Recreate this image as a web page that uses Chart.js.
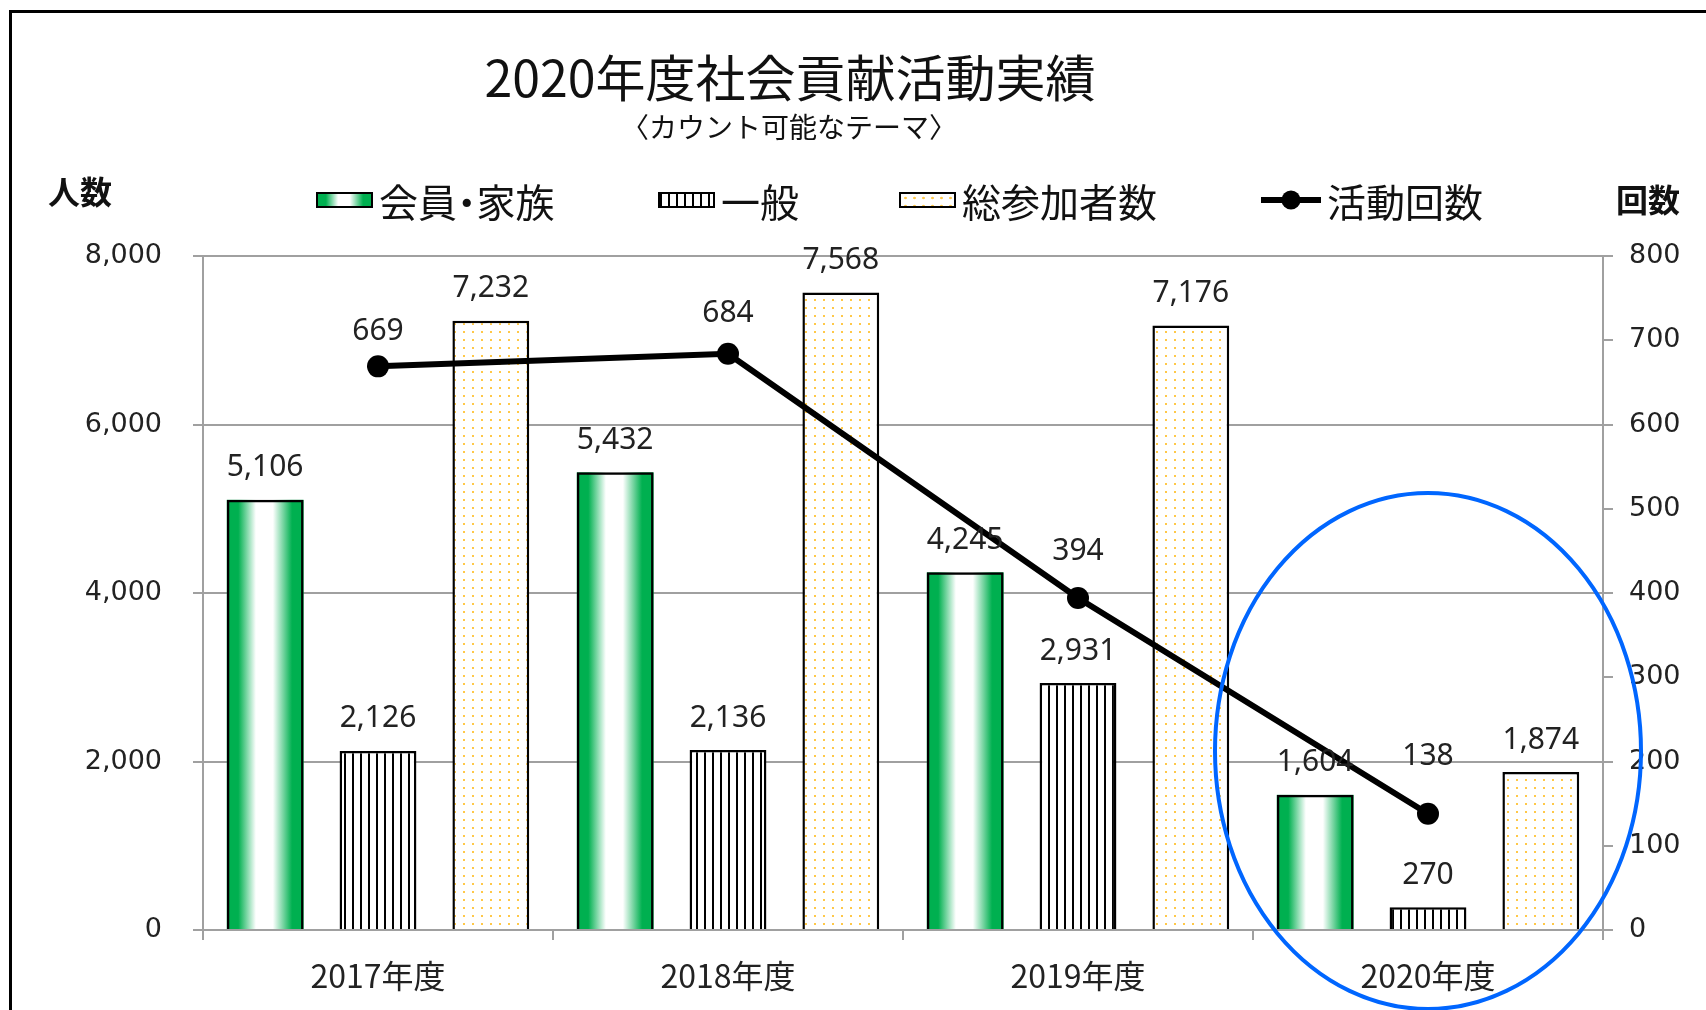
<!DOCTYPE html>
<html lang="ja">
<head>
<meta charset="utf-8">
<title>2020年度社会貢献活動実績</title>
<script src="https://cdn.jsdelivr.net/npm/chart.js@4.4.1/dist/chart.umd.min.js"></script>
<style>
  html, body { margin: 0; padding: 0; background: #fff; overflow: hidden; }
  #wrap { position: relative; width: 1706px; height: 1010px; font-family: "Noto Sans CJK JP", sans-serif; color: #111; }
  #frame { position: absolute; left: 9px; top: 10px; width: 1800px; height: 1100px; border: 3px solid #000; box-sizing: border-box; }
  #c { position: absolute; left: 0; top: 0; }
  .txt { position: absolute; white-space: nowrap; line-height: 1; }
  #title { left: 790px; top: 50px; font-size: 50px; transform: translateX(-50%); }
  #subtitle { left: 789px; top: 112px; font-size: 28px; transform: translateX(-50%); }
  #unitLeft { left: 48px; top: 174px; font-size: 32px; font-weight: bold; }
  #unitRight { left: 1616px; top: 182px; font-size: 32px; font-weight: bold; }
  .item { position: absolute; top: 180px; height: 40px; display: flex; align-items: center; font-size: 39px; line-height: 1; white-space: nowrap; }
  .item span { margin-left: 6px; font-feature-settings: "halt"; }
  .sw { width: 57px; height: 16px; box-sizing: border-box; border: 2.5px solid #000; }
  .sw.green { background: linear-gradient(to right, #00B050 0%, #00B050 15%, #fff 38%, #fff 60%, #00B050 85%, #00B050 100%); }
  .sw.stripe { background: repeating-linear-gradient(to right, #000 0 2px, #fff 2px 8px); }
  .sw.dots { background: #fff radial-gradient(circle, rgba(255,190,40,0.85) 1px, transparent 1.6px) 0 0 / 9px 8px; }
</style>
</head>
<body>
<div id="wrap">
  <canvas id="c" width="1706" height="1010"></canvas>
  <div id="frame"></div>
  <div class="txt" id="title">2020年度社会貢献活動実績</div>
  <div class="txt" id="subtitle">〈カウント可能なテーマ〉</div>
  <div class="txt" id="unitLeft">人数</div>
  <div class="txt" id="unitRight">回数</div>
  <div id="legend"></div>
</div>
<script>
// data
const categories = ["2017年度", "2018年度", "2019年度", "2020年度"];
const memberFamily = [5106, 5432, 4245, 1604];
const general = [2126, 2136, 2931, 270];
const totalParticipants = [7232, 7568, 7176, 1874];
const activityCount = [669, 684, 394, 138];
const peopleTicks = [0, 2000, 4000, 6000, 8000];
const countTicks = [0, 100, 200, 300, 400, 500, 600, 700, 800];

// label lift above the line points (px), as placed in the original
const lineLabelLift = [35, 40, 47, 57];

const canvas = document.getElementById("c");
const ctx = canvas.getContext("2d");

function makeTile(w, h, paint) {
  const t = document.createElement("canvas");
  t.width = w;
  t.height = h;
  paint(t.getContext("2d"));
  return t;
}

const stripes = ctx.createPattern(makeTile(8, 8, g => {
  g.fillStyle = "#fff";
  g.fillRect(0, 0, 8, 8);
  g.fillStyle = "#000";
  g.fillRect(0, 0, 2, 8);
}), "repeat");

const dots = ctx.createPattern(makeTile(9, 8, g => {
  g.fillStyle = "#fff";
  g.fillRect(0, 0, 9, 8);
  g.fillStyle = "rgba(255, 190, 40, 0.85)";
  g.fillRect(4, 3, 2, 2);
}), "repeat");

// green-white-green fill, laid under each bar of the first dataset
const greenFill = {
  id: "greenFill",
  beforeDatasetDraw(chart, args) {
    if (args.index !== 0) return;
    const c = chart.ctx;
    args.meta.data.forEach(bar => {
      const { x, y, base, width } = bar.getProps(["x", "y", "base", "width"], true);
      const l = x - width / 2;
      const g = c.createLinearGradient(l, 0, l + width, 0);
      g.addColorStop(0, "#00B050");
      g.addColorStop(0.15, "#00B050");
      g.addColorStop(0.38, "#ffffff");
      g.addColorStop(0.6, "#ffffff");
      g.addColorStop(0.85, "#00B050");
      g.addColorStop(1, "#00B050");
      c.fillStyle = g;
      c.fillRect(l, y, width, base - y);
    });
  }
};

const valueLabels = {
  id: "valueLabels",
  afterDatasetsDraw(chart) {
    const c = chart.ctx;
    c.save();
    c.font = '30px "Noto Sans", sans-serif';
    c.fillStyle = "#222";
    c.textAlign = "center";
    c.textBaseline = "middle";
    chart.data.datasets.forEach((ds, i) => {
      const meta = chart.getDatasetMeta(i);
      meta.data.forEach((el, j) => {
        const lift = ds.type === "line" ? lineLabelLift[j] : 32;
        c.fillText(ds.data[j].toLocaleString("en-US"), el.x, el.y - lift);
      });
    });
    c.restore();
  }
};

// hand-drawn blue ring round the last year
const ring = {
  id: "ring",
  afterDraw(chart) {
    const c = chart.ctx;
    const cx = chart.scales.x.getPixelForValue(categories.length - 1);
    c.save();
    c.strokeStyle = "#0066FF";
    c.lineWidth = 4;
    c.beginPath();
    c.ellipse(cx, 751, 213, 258, 0, 0, Math.PI * 2);
    c.stroke();
    c.restore();
  }
};

const gridGray = "#a0a0a0";
const tickFont = { family: "DejaVu Sans", size: 27 };

new Chart(ctx, {
  data: {
    labels: categories,
    datasets: [
      {
        type: "bar",
        label: "会員・家族",
        data: memberFamily,
        backgroundColor: "rgba(0,0,0,0)",
        borderColor: "#000",
        borderWidth: 2.5,
        yAxisID: "y",
        order: 1
      },
      {
        type: "bar",
        label: "一般",
        data: general,
        backgroundColor: stripes,
        borderColor: "#000",
        borderWidth: 2.5,
        yAxisID: "y",
        order: 1
      },
      {
        type: "bar",
        label: "総参加者数",
        data: totalParticipants,
        backgroundColor: dots,
        borderColor: "#000",
        borderWidth: 2.5,
        yAxisID: "y",
        order: 1
      },
      {
        type: "line",
        label: "活動回数",
        data: activityCount,
        borderColor: "#000",
        borderWidth: 6,
        pointRadius: 11,
        pointBackgroundColor: "#000",
        pointBorderWidth: 0,
        yAxisID: "y1",
        order: 0
      }
    ]
  },
  options: {
    responsive: false,
    animation: false,
    events: [],
    layout: { padding: { top: 256, left: 0, right: 0, bottom: 0 } },
    datasets: {
      bar: { categoryPercentage: 0.967, barPercentage: 0.681 }
    },
    plugins: {
      legend: { display: false },
      title: { display: false },
      tooltip: { enabled: false }
    },
    scales: {
      x: {
        grid: { drawOnChartArea: false, offset: true, tickLength: 10, color: gridGray, lineWidth: 2 },
        border: { color: gridGray, width: 2 },
        ticks: {
          font: { family: "Noto Sans CJK JP", size: 32 },
          color: "#222",
          padding: 17,
          maxRotation: 0,
          autoSkip: false
        },
        afterFit: s => { s.height = 80; }
      },
      y: {
        position: "left",
        min: 0,
        max: 8000,
        grid: { color: gridGray, lineWidth: 2, tickLength: 10 },
        border: { color: gridGray, width: 2 },
        ticks: {
          font: tickFont,
          color: "#222",
          padding: 31,
          callback: v => v.toLocaleString("en-US")
        },
        afterBuildTicks: s => { s.ticks = peopleTicks.map(v => ({ value: v })); },
        afterFit: s => { s.width = 203; }
      },
      y1: {
        position: "right",
        min: 0,
        max: 800,
        grid: { drawOnChartArea: false, color: gridGray, lineWidth: 2, tickLength: 10 },
        border: { color: gridGray, width: 2 },
        ticks: { font: tickFont, color: "#222", padding: 16 },
        afterBuildTicks: s => { s.ticks = countTicks.map(v => ({ value: v })); },
        afterFit: s => { s.width = 103; }
      }
    }
  },
  plugins: [greenFill, valueLabels, ring]
});

// legend, built from the dataset names
const legendNames = ["会員・家族", "一般", "総参加者数", "活動回数"];
const legendKinds = ["green", "stripe", "dots", "line"];
const legendLeft = [316, 658, 899, 1261];
const legend = document.getElementById("legend");
legendNames.forEach((name, i) => {
  const item = document.createElement("div");
  item.className = "item";
  item.style.left = legendLeft[i] + "px";
  const mark = legendKinds[i] === "line"
    ? '<svg width="60" height="22" viewBox="0 0 60 22"><line x1="0" y1="11" x2="60" y2="11" stroke="#000" stroke-width="6"/><circle cx="30" cy="11" r="9.5" fill="#000"/></svg>'
    : '<div class="sw ' + legendKinds[i] + '"></div>';
  item.innerHTML = mark + "<span>" + name + "</span>";
  legend.appendChild(item);
});
</script>
</body>
</html>
